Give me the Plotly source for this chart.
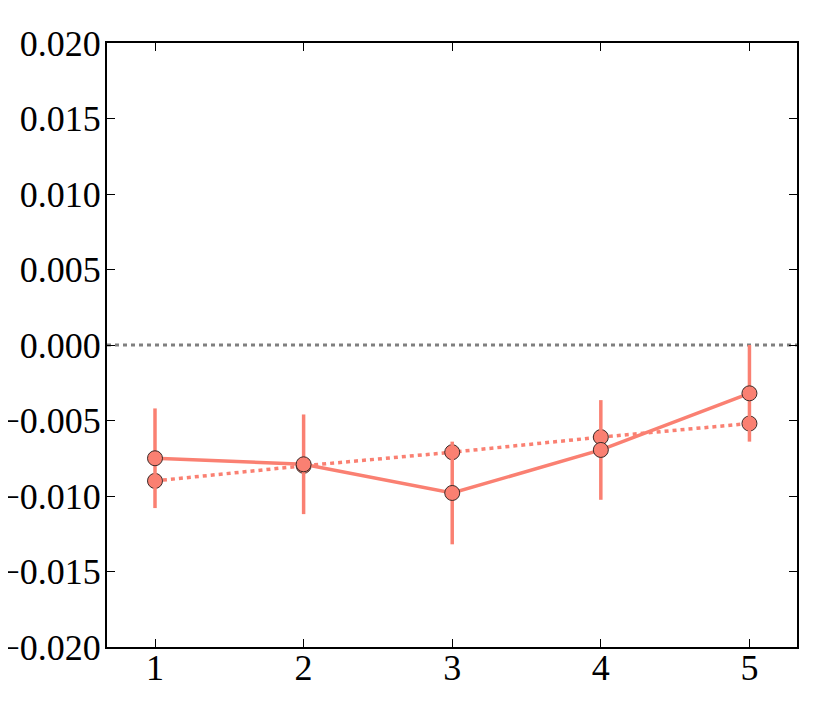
import plotly.graph_objects as go

x_vals = [1, 2, 3, 4, 5]
solid_vals = [-0.0075, -0.0079, -0.0098, -0.00695, -0.0032]
solid_err = [0.0033, 0.0033, 0.0034, 0.0033, 0.0032]
dotted_vals = [-0.0090, -0.0080, -0.0071, -0.0061, -0.0052]
zero_level = 0.0
y_ticks = [0.020, 0.015, 0.010, 0.005, 0.000, -0.005, -0.010, -0.015, -0.020]
y_tick_text = ["0.020", "0.015", "0.010", "0.005", "0.000", "\u22120.005", "\u22120.010", "\u22120.015", "\u22120.020"]

salmon = "#FA8072"
edge = "#3a2a28"

fig = go.Figure()

fig.add_hline(y=zero_level, line=dict(color="#808080", width=3, dash="4px,4px"), layer="below")

fig.add_trace(go.Scatter(
    x=x_vals, y=dotted_vals, mode="lines+markers",
    line=dict(color=salmon, width=3.5, dash="4px,4px"),
    marker=dict(size=15, color=salmon, line=dict(color=edge, width=1)),
    showlegend=False,
))
fig.add_trace(go.Scatter(
    x=x_vals, y=solid_vals, mode="lines+markers",
    line=dict(color=salmon, width=3.5),
    marker=dict(size=15, color=salmon, line=dict(color=edge, width=1)),
    error_y=dict(type="data", array=solid_err, visible=True, color=salmon, thickness=3.5, width=0),
    showlegend=False,
))

axis_common = dict(
    showline=True, linecolor="black", linewidth=2, mirror="ticks",
    ticks="inside", ticklen=8, tickwidth=1, tickcolor="black",
    showgrid=False, zeroline=False, automargin=False,
    tickfont=dict(family="Liberation Serif", size=36, color="black"),
)

fig.update_xaxes(range=[0.677, 5.32], tickvals=x_vals, ticktext=[str(v) for v in x_vals],
                 ticklabelstandoff=-12, **axis_common)
fig.update_yaxes(range=[-0.020, 0.020], tickvals=y_ticks, ticktext=y_tick_text,
                 ticklabelstandoff=-3, **axis_common)

fig.update_layout(
    width=830, height=727,
    margin=dict(l=99, r=41, t=35, b=88),
    plot_bgcolor="white", paper_bgcolor="white",
)

fig.write_html("out.html")
